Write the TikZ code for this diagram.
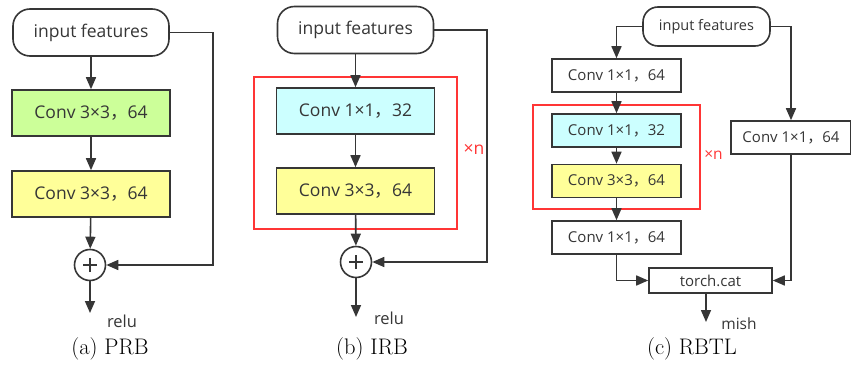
\documentclass[tikz,border=0pt]{standalone}
\usepackage{fontspec}
\newfontfamily\cjk{Noto Sans CJK SC}
\newfontfamily\lat{Open Sans}
\usetikzlibrary{arrows.meta,positioning}
\definecolor{ink}{HTML}{363636}
\definecolor{lgreen}{HTML}{CCFF99}
\definecolor{lyellow}{HTML}{FFFF99}
\definecolor{lcyan}{HTML}{CCFFFF}
\definecolor{xred}{HTML}{FF3535}
\newcommand{\cv}[2]{Conv #1{\cjk ，}#2}

\begin{document}
\begin{tikzpicture}[x=1pt,y=-1pt,>={Triangle[length=12pt,width=10pt]},
  color=ink,line width=1.6pt,
  box/.style={draw=ink,fill=white,line width=1.6pt,minimum width=158pt,minimum height=46pt,inner sep=0pt,font=\lat\fontsize{17.5}{20}\selectfont},
  sbox/.style={box,minimum width=129pt,minimum height=33pt,font=\lat\fontsize{15}{17}\selectfont},
  term/.style={box,rounded corners=17pt,minimum width=156pt,minimum height=47pt},
  plus/.style={draw=ink,circle,minimum size=31pt,inner sep=0pt,line width=1.6pt,
    path picture={\draw[line width=1.8pt]
      ([xshift=-7pt]path picture bounding box.center) -- ([xshift=7pt]path picture bounding box.center)
      ([yshift=-7pt]path picture bounding box.center) -- ([yshift=7pt]path picture bounding box.center);}},
  rep/.style={draw=xred,line width=2.6pt,inner sep=0pt},
  xn/.style={text=xred,font=\lat\fontsize{17.5}{18}\selectfont,inner sep=0pt},
  lab/.style={font=\lat\fontsize{16.5}{18}\selectfont,inner sep=0pt},
  capt/.style={font=\fontsize{22.5}{25}\selectfont,text=black,inner sep=0pt}]
\useasboundingbox (0,0) rectangle (851,374);
% --- (a) PRB ---
\node[term] (inA) at (91,32.5) {input features};
\node[box,fill=lgreen]  (c1A) at (91,113) {\cv{3×3}{64}};
\node[box,fill=lyellow] (c2A) at (91,194) {\cv{3×3}{64}};
\node[plus] (addA) at (90,265) {};
\coordinate (skA) at (213,265);
\coordinate (outA) at (90,313);
\node[lab] (reluA) at (122,321) {relu};
\node[capt] (capA) at (110,349) {(a) PRB};
\draw[->] (inA) -- (c1A);
\draw[->] (c1A) -- (c2A);
\draw[->] (c2A) -- (addA);
\draw[->] (inA.east) -| (skA) -- (addA.east);
\draw[->] (addA) -- (outA);
% --- (b) IRB ---
\node[term] (inB) at (355.5,30) {input features};
\node[rep,minimum width=203pt,minimum height=152pt] (grpB) at (355.5,153) {};
\node[box,fill=lcyan]   (c1B) at (355.5,111) {\cv{1×1}{32}};
\node[box,fill=lyellow] (c2B) at (355.5,191) {\cv{3×3}{64}};
\node[xn] (nB) at (474,149) {×n};
\node[plus] (addB) at (356,262) {};
\coordinate (skB) at (487,262);
\coordinate (outB) at (356,317);
\node[lab] (reluB) at (389,318) {relu};
\node[capt] (capB) at (372,349) {(b) IRB};
\draw[->] (inB) -- (c1B);
\draw[->] (c1B) -- (c2B);
\draw[->] (c2B) -- (addB);
\draw[->] (inB.east) -| (skB) -- (addB.east);
\draw[->] (addB) -- (outB);
% --- (c) RBTL ---
\node[term,rounded corners=15pt,minimum width=127pt,minimum height=39pt,font=\lat\fontsize{14.5}{17}\selectfont] (inC) at (706.5,26.5) {input features};
\node[sbox] (c1C) at (616.5,75.5) {\cv{1×1}{64}};
\node[rep,minimum width=167pt,minimum height=104pt] (grpC) at (616.5,157) {};
\node[sbox,fill=lcyan]   (c2C) at (616.5,130.5) {\cv{1×1}{32}};
\node[sbox,fill=lyellow] (c3C) at (616.5,181) {\cv{3×3}{64}};
\node[xn,font=\lat\fontsize{15.5}{17}\selectfont] (nC) at (713.5,155) {×n};
\node[sbox] (c4C) at (616.5,237.5) {\cv{1×1}{64}};
\node[sbox,minimum width=120pt] (c5C) at (791,137.5) {\cv{1×1}{64}};
\node[sbox,minimum width=123pt,minimum height=25pt] (catC) at (710.5,280.5) {torch.cat};
\coordinate (outC) at (706,322);
\node[lab,font=\lat\fontsize{15.5}{17}\selectfont] (mishC) at (739,324) {mish};
\node[capt] (capC) at (692,349) {(c) RBTL};
\draw[->] (inC.west) -| (c1C);
\draw[->] (inC.east) -| (c5C);
\draw[->] (c1C) -- (c2C);
\draw[->] (c2C) -- (c3C);
\draw[->] (c3C) -- (c4C);
\draw[->] (c4C) |- (catC);
\draw[->] (c5C) |- (catC);
\draw[->] (catC.south -| outC) -- (outC);
\end{tikzpicture}
\end{document}
